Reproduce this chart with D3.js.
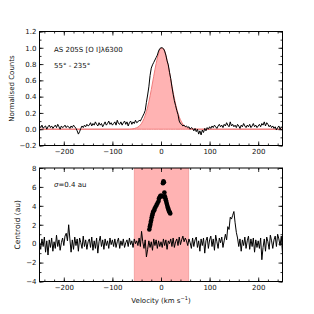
<!DOCTYPE html>
<html>
<head>
<meta charset="utf-8">
<script src="https://cdn.jsdelivr.net/npm/d3@7"></script>
<style>
    body { margin: 0; background: #fff; }
    text { font-family: "DejaVu Sans", sans-serif; fill: #111; }
</style>
</head>
<body>
<div id="chart"></div>
<script>
// velocity grid of the spectrum (km/s)
const velocity = d3.range(201).map(i => -250 + i * 2.5)

// normalised counts
const spectrum = [
    0.04, 0.02, 0.05, 0.01, 0.03, 0.04, 0.00, 0.03, 0.05, 0.02, 0.04, 0.01, 0.03, 0.05, 0.02, 0.06, 0.03, 0.00, 0.04, 0.02, 0.03,
    0.05, 0.02, 0.04, 0.03, 0.01, 0.04, 0.02, 0.05, 0.03, 0.01, -0.02, -0.06, -0.03, 0.01, 0.04, 0.02, 0.05, 0.03, 0.06, 0.04,
    0.05, 0.08, 0.04, 0.07, 0.05, 0.09, 0.06, 0.04, 0.08, 0.05, 0.07, 0.03, 0.06, 0.09, 0.05, 0.07, 0.10, 0.06, 0.08, 0.05,
    0.07, 0.09, 0.05, 0.11, 0.07, 0.06, 0.09, 0.05, 0.08, 0.10, 0.06, 0.09, 0.04, 0.08, 0.10, 0.06, 0.09, 0.07, 0.11, 0.08,
    0.09, 0.11, 0.10, 0.13, 0.16, 0.19, 0.23, 0.33, 0.42, 0.52, 0.66, 0.75, 0.79, 0.82, 0.85, 0.88, 0.91, 0.96, 0.99, 1.00,
    1.00, 0.99, 0.96, 0.91, 0.84, 0.79, 0.70, 0.62, 0.52, 0.43, 0.35, 0.29, 0.23, 0.18, 0.10, 0.07, 0.06, 0.04, 0.05, 0.03,
    0.04, 0.02, 0.03, 0.00, 0.02, 0.01, -0.02, 0.01, -0.03, 0.00, -0.06, -0.02, -0.07, -0.01, -0.04, 0.01, -0.02, 0.02, 0.00, 0.03,
    0.01, 0.04, 0.02, 0.05, 0.03, 0.01, 0.04, 0.06, 0.03, 0.05, 0.02, 0.06, 0.04, 0.08, 0.05, 0.03, 0.09, 0.04, 0.06, 0.03,
    0.05, 0.02, 0.06, 0.04, 0.01, 0.05, 0.03, 0.07, 0.04, 0.02, 0.05, 0.03, 0.06, 0.02, 0.04, 0.07, 0.03, 0.05, 0.02, 0.04,
    0.06, 0.03, 0.07, 0.05, 0.09, 0.04, 0.08, 0.06, 0.03, 0.05, 0.02, 0.04, 0.01, 0.03, -0.01, 0.02, 0.04, 0.00, 0.03, 0.01
]

// gaussian fit (pink)
const fitVelocity = [-250, -65, -60, -55, -50, -45, -40, -35, -30, -25, -20, -15, -10, -5, 0, 5, 10, 15, 20, 25, 30, 35, 40, 45, 50, 55, 60, 65, 70, 250]
const fitCounts = [0, 0, 0.003, 0.008, 0.018, 0.037, 0.072, 0.13, 0.217, 0.337, 0.486, 0.65, 0.807, 0.929, 0.994, 0.987, 0.909, 0.777, 0.617, 0.454, 0.31, 0.197, 0.116, 0.063, 0.032, 0.015, 0.007, 0.003, 0, 0]

// centroid (au)
const centroid = [
    0.2, -0.6, 0.5, -0.3, 0.7, -0.9, 0.3, -1.2, 0.4, -0.4, 0.6, -0.8, 0.2, -0.5, 0.9, -0.3, 0.4, -0.7, 0.1, 0.6, -0.2,
    0.8, 1.1, 0.3, 2.0, 0.5, -0.9, 0.4, -0.6, 0.7, -0.2, 0.5, -0.8, 0.6, 0.1, -0.5, 0.8, -0.3, 0.4, -0.6, 0.2,
    0.5, -0.4, 0.7, -0.7, 0.3, -0.5, 0.6, -1.0, 0.2, 0.8, -0.3, 0.4, -0.6, 0.5, -0.2, 0.3, -0.5, 0.6, -0.1, 0.4,
    -0.3, 0.5, -0.4, 0.2, 0.6, -0.5, 0.3, -0.2, 0.5, -0.4, 0.1, 0.4, -0.3, 0.6, -0.1, 0.3, -0.4, 0.5, 0.0, 0.3,
    -0.2, 0.6, -0.3, 1.3, 0.2, -0.5, 0.4, -1.4, -0.6, 0.3, -0.4, 0.2, -0.7, 0.5, -0.2, 0.4, -0.5, 0.3, -0.3, 0.2,
    -0.4, 0.5, -0.2, 0.4, -0.6, 0.3, 0.0, 0.5, -0.3, 0.6, -0.4, 0.2, 0.5, -0.2, 0.7, -0.1, 0.4, 0.8, 0.2, 0.6,
    0.3, -0.2, 0.5, 0.1, -0.5, 0.6, -0.3, 0.4, 0.7, -0.4, 0.3, -0.8, 0.5, -0.2, 0.6, -1.0, 0.3, 0.7, -0.5, 0.4,
    0.8, -0.3, 0.5, -0.7, 0.9, 0.2, -0.5, 0.6, 0.1, 0.7, -0.4, 0.3, 1.0, 0.4, 1.8, 1.5, 2.8, 2.6, 3.0, 3.4,
    2.2, 1.2, 0.6, -0.3, 0.5, -0.8, 0.4, -0.2, 0.7, -0.5, 0.3, 0.8, -0.6, 0.5, -0.3, 0.6, -0.9, 0.4, -0.4, 0.3,
    -0.5, 0.6, -1.7, -0.4, 0.5, -0.8, 0.7, 0.2, -0.6, 0.9, 0.3, -0.5, 0.4, 0.8, -0.3, 1.0, 0.5, -0.2, 0.8, -1.0
]

// centroid points in the line region (black dots)
const dotVelocity = [-24, -23, -22, -21, -20, -19, -18, -17, -16, -14, -13, -11, -9, -7, -5, -4, -2, 0, 2, 4, 5, 6, 7, 8, 9, 10, 11, 12, 13, 14, 15, 16, 17, 18, 19]
const dotCentroid = [1.5, 1.8, 2.0, 2.3, 2.5, 2.8, 3.0, 3.2, 3.4, 3.5, 3.7, 3.9, 4.1, 4.3, 4.5, 4.8, 5.0, 5.1, 5.0, 6.4, 6.6, 6.5, 5.4, 5.0, 4.8, 4.6, 4.4, 4.2, 4.0, 3.8, 3.7, 3.5, 3.4, 3.3, 3.2]

const lineRegion = [-55, 57]

const xTicks = [-200, -100, 0, 100, 200]
const xMinorTicks = d3.range(-240, 250, 20)
const topYTicks = [-0.2, 0, 0.2, 0.4, 0.6, 0.8, 1.0, 1.2]
const topYMinorTicks = d3.range(-0.2, 1.21, 0.1)
const bottomYTicks = [-4, -2, 0, 2, 4, 6, 8]
const bottomYMinorTicks = d3.range(-4, 8.1, 1)

let dimensions = {
    width: 314,
    height: 314,
    left: 39.5,
    right: 282.5,
    top1: 31.5,
    bottom1: 145.5,
    top2: 168,
    bottom2: 281.5,
}

const svg = d3.select('#chart')
    .append('svg')
    .attr("width", dimensions.width)
    .attr("height", dimensions.height)

const xScale = d3.scaleLinear()
    .domain([-250, 250])
    .range([dimensions.left, dimensions.right])

const yTop = d3.scaleLinear()
    .domain([-0.2, 1.2])
    .range([dimensions.bottom1, dimensions.top1])

const yBottom = d3.scaleLinear()
    .domain([-4, 8])
    .range([dimensions.bottom2, dimensions.top2])

const defs = svg.append("defs")
defs.append("clipPath").attr("id", "clip-top")
    .append("rect")
    .attr("x", dimensions.left).attr("y", dimensions.top1)
    .attr("width", dimensions.right - dimensions.left)
    .attr("height", dimensions.bottom1 - dimensions.top1)
defs.append("clipPath").attr("id", "clip-bottom")
    .append("rect")
    .attr("x", dimensions.left).attr("y", dimensions.top2)
    .attr("width", dimensions.right - dimensions.left)
    .attr("height", dimensions.bottom2 - dimensions.top2)

// upper panel: spectrum
const topPanel = svg.append("g").attr("clip-path", "url(#clip-top)")

topPanel.append("path")
    .datum(fitVelocity.map((v, i) => [v, fitCounts[i]]))
    .attr("fill", "#ffb3b3")
    .attr("stroke", "#f07c7c")
    .attr("stroke-width", 1)
    .attr("d", d3.area()
        .x(d => xScale(d[0]))
        .y0(yTop(0))
        .y1(d => yTop(d[1]))
        .curve(d3.curveMonotoneX))

topPanel.append("path")
    .datum(velocity.map((v, i) => [v, spectrum[i]]))
    .attr("fill", "none")
    .attr("stroke", "#000")
    .attr("stroke-width", 1)
    .attr("d", d3.line()
        .x(d => xScale(d[0]))
        .y(d => yTop(d[1])))

// lower panel: centroid
const bottomPanel = svg.append("g").attr("clip-path", "url(#clip-bottom)")

bottomPanel.append("rect")
    .attr("x", xScale(lineRegion[0]))
    .attr("y", dimensions.top2)
    .attr("width", xScale(lineRegion[1]) - xScale(lineRegion[0]))
    .attr("height", dimensions.bottom2 - dimensions.top2)
    .attr("fill", "#ffb3b3")
    .attr("stroke", "#f39a9a")
    .attr("stroke-width", 0.8)

bottomPanel.append("path")
    .datum(velocity.map((v, i) => [v, centroid[i]]))
    .attr("fill", "none")
    .attr("stroke", "#000")
    .attr("stroke-width", 1)
    .attr("d", d3.line()
        .x(d => xScale(d[0]))
        .y(d => yBottom(d[1])))

bottomPanel.selectAll(".dot")
    .data(dotVelocity.map((v, i) => [v, dotCentroid[i]]))
    .join("circle")
    .attr("class", "dot")
    .attr("cx", d => xScale(d[0]))
    .attr("cy", d => yBottom(d[1]))
    .attr("r", 2.3)
    .attr("fill", "#000")

// axes, ticks pointing inward on all four sides
const drawFrame = (yScale, top, bottom, yMajor, yMinor, yFormat) => {
    const g = svg.append("g")
        .style("font-size", "7px")

    const tickStyle = sel => {
        sel.select(".domain").remove()
        sel.selectAll(".tick line").attr("stroke", "#000").attr("stroke-width", 0.8)
        sel.selectAll(".tick text")
            .style("font-family", '"DejaVu Sans", sans-serif')
            .style("font-size", "7px")
            .attr("fill", "#111")
    }

    g.append("g")
        .attr("transform", `translate(0, ${bottom})`)
        .call(d3.axisBottom(xScale).tickValues(xTicks).tickSize(-4).tickPadding(4).tickFormat(d3.format("d")))
        .call(tickStyle)
    g.append("g")
        .attr("transform", `translate(0, ${bottom})`)
        .call(d3.axisBottom(xScale).tickValues(xMinorTicks).tickSize(-2).tickFormat(""))
        .call(tickStyle)
    g.append("g")
        .attr("transform", `translate(0, ${top})`)
        .call(d3.axisTop(xScale).tickValues(xTicks).tickSize(-4).tickFormat(""))
        .call(tickStyle)
    g.append("g")
        .attr("transform", `translate(0, ${top})`)
        .call(d3.axisTop(xScale).tickValues(xMinorTicks).tickSize(-2).tickFormat(""))
        .call(tickStyle)

    g.append("g")
        .attr("transform", `translate(${dimensions.left}, 0)`)
        .call(d3.axisLeft(yScale).tickValues(yMajor).tickSize(-4).tickPadding(3).tickFormat(yFormat))
        .call(tickStyle)
    g.append("g")
        .attr("transform", `translate(${dimensions.left}, 0)`)
        .call(d3.axisLeft(yScale).tickValues(yMinor).tickSize(-2).tickFormat(""))
        .call(tickStyle)
    g.append("g")
        .attr("transform", `translate(${dimensions.right}, 0)`)
        .call(d3.axisRight(yScale).tickValues(yMajor).tickSize(-4).tickFormat(""))
        .call(tickStyle)
    g.append("g")
        .attr("transform", `translate(${dimensions.right}, 0)`)
        .call(d3.axisRight(yScale).tickValues(yMinor).tickSize(-2).tickFormat(""))
        .call(tickStyle)

    g.append("rect")
        .attr("x", dimensions.left)
        .attr("y", top)
        .attr("width", dimensions.right - dimensions.left)
        .attr("height", bottom - top)
        .attr("fill", "none")
        .attr("stroke", "#000")
        .attr("stroke-width", 1)
}

drawFrame(yTop, dimensions.top1, dimensions.bottom1, topYTicks, topYMinorTicks, d3.format(".1f"))
drawFrame(yBottom, dimensions.top2, dimensions.bottom2, bottomYTicks, bottomYMinorTicks, d3.format("d"))

// labels
const labels = svg.append("g").style("font-size", "7px")

labels.append("text")
    .attr("transform", `translate(14, ${(dimensions.top1 + dimensions.bottom1) / 2}) rotate(-90)`)
    .attr("text-anchor", "middle")
    .text("Normalised Counts")

labels.append("text")
    .attr("transform", `translate(20, ${(dimensions.top2 + dimensions.bottom2) / 2}) rotate(-90)`)
    .attr("text-anchor", "middle")
    .style("font-size", "7.5px")
    .text("Centroid (au)")

const xLabel = labels.append("text")
    .attr("x", xScale(0))
    .attr("y", 303)
    .attr("text-anchor", "middle")
    .text("Velocity (km s")
xLabel.append("tspan").attr("dy", -3).style("font-size", "5px").text("−1")
xLabel.append("tspan").attr("dy", 3).text(")")

labels.append("text")
    .attr("x", 54)
    .attr("y", 51.5)
    .text("AS 205S [O I]λ6300")

labels.append("text")
    .attr("x", 54)
    .attr("y", 67.5)
    .text("55°  -  235°")

const sigma = labels.append("text")
    .attr("x", 54)
    .attr("y", 187)
sigma.append("tspan").style("font-style", "italic").text("σ")
sigma.append("tspan").text("=0.4 au")
</script>
</body>
</html>
